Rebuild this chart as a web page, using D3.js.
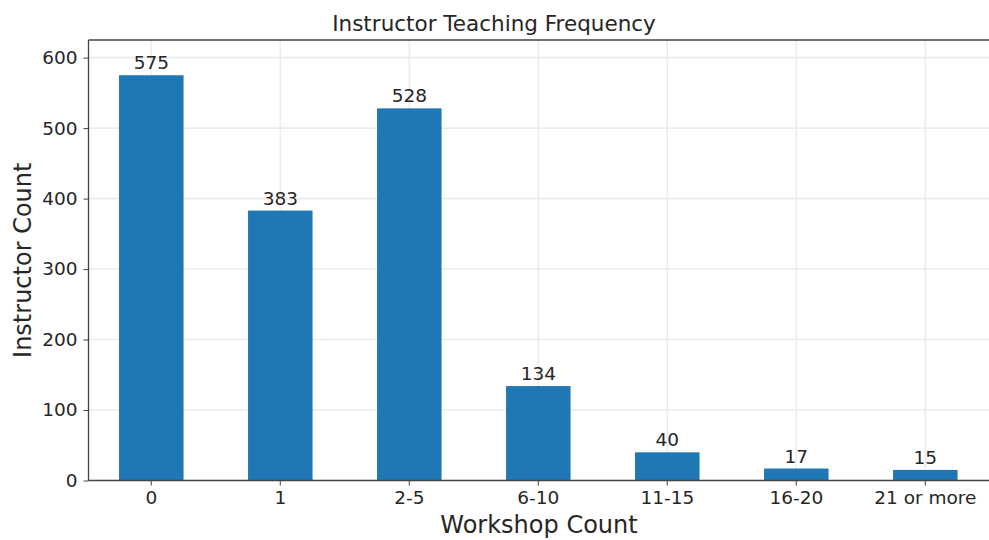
<!DOCTYPE html>
<html>
<head>
<meta charset="utf-8">
<script src="https://cdn.jsdelivr.net/npm/d3@7"></script>
<style>
  body { margin: 0; background: #fff; }
  text { font-family: "DejaVu Sans", sans-serif; fill: #262626; }
</style>
</head>
<body>
<svg id="chart" width="989" height="540"></svg>
<script>
// data
const categories = ["0", "1", "2-5", "6-10", "11-15", "16-20", "21 or more"];
const counts = [575, 383, 528, 134, 40, 17, 15];
const yTicks = [0, 100, 200, 300, 400, 500, 600];

const svg = d3.select("#chart");
const plotLeft = 88.5, plotRight = 989.5, plotTop = 40, plotBottom = 480.5;

// band range slightly wider than the frame, as in the source figure
let x = d3.scaleBand()
    .domain(categories)
    .range([86.8, 989.8])
    .paddingInner(0.5)
    .paddingOuter(0.25);
let y = d3.scaleLinear()
    .domain([0, 625])
    .range([plotBottom, plotTop]);

// grid lines
svg.append("g").selectAll("line")
    .data(yTicks).enter().append("line")
    .attr("x1", plotLeft).attr("x2", plotRight)
    .attr("y1", d => y(d)).attr("y2", d => y(d))
    .attr("stroke", "#ebebeb").attr("stroke-width", 1.6);
svg.append("g").selectAll("line")
    .data(categories).enter().append("line")
    .attr("x1", d => x(d) + x.bandwidth() / 2).attr("x2", d => x(d) + x.bandwidth() / 2)
    .attr("y1", plotTop).attr("y2", plotBottom)
    .attr("stroke", "#ebebeb").attr("stroke-width", 1.6);

// bars
svg.append("g").selectAll("rect")
    .data(counts).enter().append("rect")
    .attr("x", (d, i) => x(categories[i]))
    .attr("y", d => y(d))
    .attr("width", x.bandwidth())
    .attr("height", d => plotBottom - y(d))
    .attr("fill", "#1f77b4");

// value labels
svg.append("g").selectAll("text")
    .data(counts).enter().append("text")
    .attr("x", (d, i) => x(categories[i]) + x.bandwidth() / 2)
    .attr("y", d => y(d) - 6)
    .attr("text-anchor", "middle")
    .style("font-size", "18.5px")
    .text(d => d);

// axes
let xAxis = svg.append("g")
    .attr("transform", `translate(0,${plotBottom})`)
    .call(d3.axisBottom(x).tickSize(5).tickPadding(5));
xAxis.select(".domain").attr("d", `M${plotLeft},0H${plotRight}`);
let yAxis = svg.append("g")
    .attr("transform", `translate(${plotLeft},0)`)
    .call(d3.axisLeft(y).tickValues(yTicks).tickSize(5).tickPadding(6));
yAxis.select(".domain").attr("d", `M0,${plotTop}V${plotBottom}`);
[xAxis, yAxis].forEach(a => {
    a.selectAll("text").style("font-size", "18.5px").attr("fill", "#262626");
    a.selectAll("line").attr("stroke", "#444");
    a.select(".domain").attr("stroke", "#444").attr("stroke-width", 1.3);
});

// top spine
svg.append("line")
    .attr("x1", plotLeft).attr("x2", plotRight)
    .attr("y1", plotTop).attr("y2", plotTop)
    .attr("stroke", "#444").attr("stroke-width", 1.3);

// title and labels
svg.append("text")
    .attr("x", 494).attr("y", 31)
    .attr("text-anchor", "middle")
    .style("font-size", "21.5px")
    .text("Instructor Teaching Frequency");
svg.append("text")
    .attr("x", 539).attr("y", 533)
    .attr("text-anchor", "middle")
    .style("font-size", "24px")
    .text("Workshop Count");
svg.append("text")
    .attr("transform", `translate(31,${(plotTop + plotBottom) / 2}) rotate(-90)`)
    .attr("text-anchor", "middle")
    .style("font-size", "24px")
    .text("Instructor Count");
</script>
</body>
</html>
